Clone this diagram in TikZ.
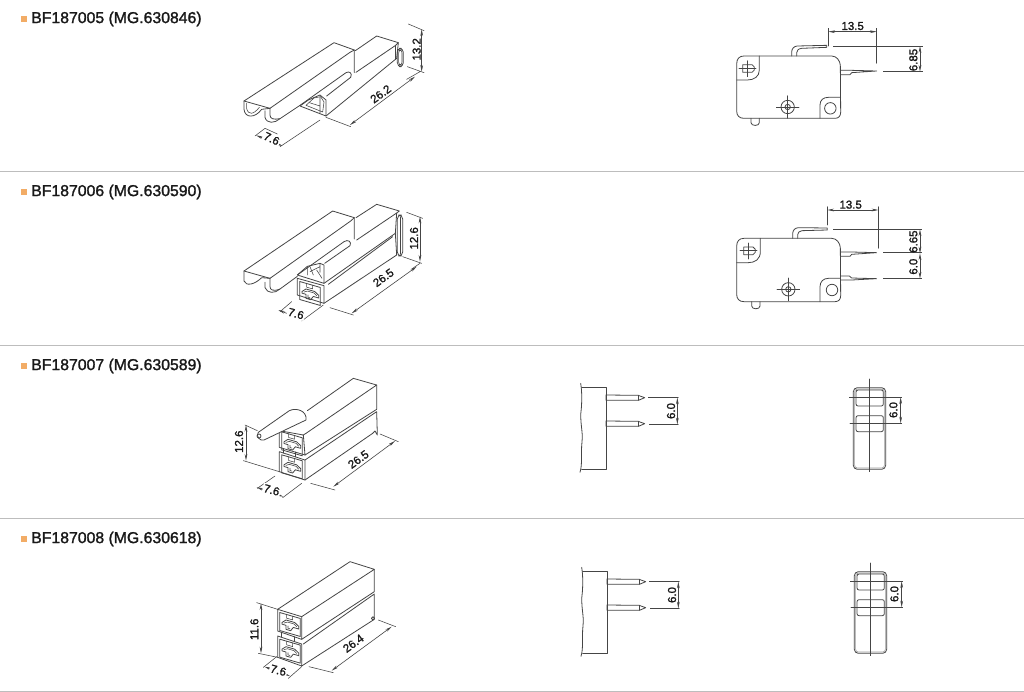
\documentclass[tikz,border=0pt]{standalone}
\usepackage{fontspec}
\setmainfont{Liberation Sans}
\usetikzlibrary{arrows.meta}
\definecolor{ink}{HTML}{454545}
\definecolor{orangeb}{HTML}{F2AC66}
\definecolor{sep}{HTML}{BDBDBD}
\tikzset{
  ln/.style={draw=ink,line width=.6pt,line join=round,line cap=round},
  thn/.style={draw=ink,line width=.42pt,line join=round,line cap=round},
  dm/.style={draw=ink,line width=.45pt,{Stealth[length=5pt,width=2pt]}-{Stealth[length=5pt,width=2pt]}},
  ttl/.style={anchor=west,inner sep=0pt,text=black!90,font=\fontsize{11.85}{13}\selectfont\addfontfeature{FakeBold=1.5}},
  dt/.style={inner sep=0pt,text=black!90,font=\fontsize{8.6}{9}\selectfont\addfontfeature{FakeBold=1.5}},
  dtw/.style={dt,fill=white,inner sep=.8pt},
  zoomed/.style={x=.25pt,y=-.25pt}
}
\newcommand{\facein}{%
  \draw[ln] (5,6)--(67,6)--(67,60)--(5,60)--cycle;
  \draw[ln] (12,34)--(24,23)--(50,23)--(62,31)--(62,39)--(46,39)--(38,51)--(24,51)--(24,39)--(12,39)--cycle;
  \draw[thn] (26,6)--(26,17)--(44,17)--(44,6);
  \draw[thn] (18,34)--(28,28)--(48,28)--(56,34) (30,39)--(30,46)--(36,46);
}
\newcommand{\switchbody}[8]{%
  % #1 top y, #2 bottom y, #3 left pocket y1, #4 pocket y2, #5 cross x, #6 cross y, #7 screw x, #8 screw y
  \draw[ln] (50,#1+24) .. controls (50,#1+8) and (58,#1) .. (72,#1) -- (335,#1) .. controls (350,#1) and (360,#1+14) .. (361,#1+28) -- (362,#2-18) .. controls (362,#2-6) and (355,#2) .. (345,#2) -- (72,#2) .. controls (58,#2) and (50,#2-8) .. (50,#2-22) -- cycle;
  \draw[ln] (#5+36,#1) -- (#5+36,#3) .. controls (#5+36,#4-10) and (#5+20,#4) .. (#5,#4) -- (50,#4);
  \draw[ln] (#5-14,#6-11) -- (#5+14,#6-11) -- (#5+21,#6-4) -- (#5+21,#6+5) -- (#5+14,#6+12) -- (#5-14,#6+12) -- (#5-14,#6-11);
  \draw[thn] (#5-25,#6) -- (#5+26,#6) (#5,#6-23) -- (#5,#6+25);
  \draw[ln] (#7,#8) circle[radius=5pt];
  \draw[ln] (#7,#8) circle[radius=2pt];
  \draw[thn] (#7-34,#8) -- (#7+34,#8) (#7,#8-34) -- (#7,#8+34);
  \draw[ln] (#7-110,#2) -- (#7-110,#2+13) .. controls (#7-110,#2+24) and (#7-85,#2+24) .. (#7-85,#2+13) -- (#7-85,#2);
}
\newcommand{\pinview}{%
  \draw[ln] (62,25) .. controls (66,50) and (66,70) .. (64,100) .. controls (58,140) and (70,170) .. (66,200) .. controls (62,240) and (68,265) .. (60,292);
  \draw[ln] (65,38) -- (138,38) -- (138,282) -- (65,282);
  \draw[ln] (138,60) -- (235,61) -- (240,63) -- (254,68) -- (240,74) -- (235,76) -- (138,76) -- cycle;
  \draw[ln] (138,138) -- (235,139) -- (240,141) -- (254,146) -- (240,152) -- (235,154) -- (138,154) -- cycle;
  \draw[thn] (235,61) -- (235,76) (235,139) -- (235,154);
  \draw[thn] (265,68) -- (355,68) (268,148) -- (355,148);
  \draw[dm] (352,68) -- (352,148);
}
\newcommand{\frontview}{%
  \draw[ln,rounded corners=3pt] (70,38) rectangle (167,283);
  \draw[thn,black!40,rounded corners=2pt] (74,42) rectangle (163,279);
  \draw[ln,rounded corners=1.5pt] (78,45) rectangle (160,93);
  \draw[ln,rounded corners=1.5pt] (78,122) rectangle (160,170);
  \draw[thn] (118,12) -- (118,290);
  \draw[thn] (58,67) -- (215,67) (60,145) -- (215,145);
  \draw[dm] (212,67) -- (212,145);
}
\begin{document}
\begin{tikzpicture}[x=.75pt,y=-.75pt]
\useasboundingbox (0,0) rectangle (1024,692);
\fill[white] (0,0) rectangle (1024,692);
% separators
\draw[sep,line width=.5pt] (0,171.5) -- (1024,171.5) (0,345) -- (1024,345) (0,518) -- (1024,518) (0,691) -- (1024,691);
% titles
\foreach \yy/\nn/\lbl in {19/a/BF187005 (MG.630846),192/b/BF187006 (MG.630590),366/c/BF187007 (MG.630589),539/d/BF187008 (MG.630618)}{
  \fill[orangeb] (20.5,\yy-3.2) rectangle (27,\yy+3.2);
  \node[ttl] (title\nn) at (31,\yy) {\lbl};
}
% ---------- row 1 connector
\begin{scope}[shift={(220,20)},zoomed]
  \draw[ln] (72,243) -- (342,68) -- (403,90) -- (403,158);
  \draw[ln] (72,243) -- (150,265) -- (390,97) -- (403,90);
  \draw[ln] (72,243) -- (72,268) .. controls (75,295) and (105,295) .. (125,268) -- (150,265);
  \draw[thn] (80,250) -- (80,266) .. controls (85,285) and (100,285) .. (118,262);
  \draw[ln] (135,272) -- (135,292) .. controls (140,312) and (165,310) .. (180,296) -- (240,256);
  \draw[ln] (150,265) -- (150,285) .. controls (150,296) and (160,300) .. (180,296);
  \draw[ln] (240,256) -- (378,158) .. controls (388,152) and (398,160) .. (392,172) -- (320,228);
  \draw[ln] (406,92) -- (470,48) -- (535,68) -- (527,76) -- (408,157);
  \draw[ln] (535,68) -- (530,115) -- (318,288);
  \draw[ln] (527,76) -- (527,118);
  \draw[ln] (240,258) -- (318,288) -- (318,240) -- (300,225) -- (265,240) -- (240,258);
  \draw[thn] (258,256) -- (282,234) -- (302,230) -- (312,246) -- (308,276) -- (258,256);
  \draw[thn] (268,248) -- (300,258) (300,230) -- (300,280);
  \draw[ln,rounded corners=3pt] (532,85) rectangle (550,140);
  \draw[thn,rounded corners=2pt] (536,90) rectangle (546,135);
  \draw[thn] (565,12) -- (612,32) (562,140) -- (612,158) (318,292) -- (392,320) (600,155) -- (560,178);
  \draw[thn] (300,300) -- (180,380) (135,325) -- (105,348) (135,325) -- (172,342);
  \draw[dm] (605,28) -- (605,155);
  \draw[dm] (585,170) -- (390,315);
  \draw[dm] (108,346) -- (188,378);
  \node[dt,rotate=90] (d1a) at (590,88) {13.2};
  \node[dt,rotate=36] (d1b) at (482,222) {26.2};
  \node[dtw,rotate=-25] (d1c) at (155,356) {7.6};
\end{scope}
% ---------- row 1 switch
\begin{scope}[shift={(720,10)},zoomed]
  \switchbody{138}{325}{180}{210}{82}{175}{203}{291}
  \draw[ln] (300,325) -- (300,285) .. controls (300,270) and (310,262) .. (325,262) -- (362,262);
  \draw[ln] (331,295) circle[radius=4.3pt];
  \draw[ln] (215,138) -- (215,125) .. controls (216,115) and (222,109) .. (232,108) -- (320,106) -- (320,112) -- (245,115) .. controls (235,116) and (230,122) .. (230,128) -- (230,138);
  \draw[ln] (362,181) -- (395,181) -- (470,183) -- (395,188) -- (390,194) -- (362,194);
  \draw[thn] (325,55) -- (325,108) (470,55) -- (470,160) (340,108) -- (608,108) (490,183) -- (608,183);
  \draw[dm] (325,65) -- (470,65);
  \draw[dm] (600,108) -- (600,185);
  \node[dt] (s1a) at (398,48) {13.5};
  \node[dt,rotate=90] (s1b) at (580,150) {6.85};
\end{scope}
% ---------- row 2 connector
\begin{scope}[shift={(220,195)},zoomed]
  \draw[ln] (72,228) -- (338,48) -- (403,68) -- (403,132);
  \draw[ln] (72,228) -- (150,250) -- (392,78) -- (403,68);
  \draw[ln] (72,228) -- (72,258) .. controls (78,275) and (105,268) .. (125,248) -- (150,250);
  \draw[ln] (135,262) -- (135,278) .. controls (142,296) and (165,296) .. (180,282) -- (232,244);
  \draw[ln] (150,250) -- (150,275) .. controls (150,285) and (160,290) .. (180,282);
  \draw[ln] (232,240) -- (372,140) .. controls (384,132) and (396,140) .. (390,152) -- (314,205);
  \draw[ln] (408,68) -- (470,28) -- (538,48) -- (530,54) -- (410,135);
  \draw[ln] (530,54) -- (526,115) -- (312,265);
  \draw[ln] (526,115) -- (530,180) -- (312,325);
  \draw[ln] (325,268) -- (518,125);
  \draw[ln,rounded corners=3pt] (532,60) rectangle (548,183);
  \draw[thn] (540,65) -- (540,178);
  \draw[ln] (232,240) -- (262,214) -- (300,205) -- (312,210) -- (312,265) -- (232,240);
  \draw[ln] (232,250) -- (312,272) -- (312,325) -- (232,300) -- cycle;
  \draw[thn] (262,214) -- (262,240) (300,205) -- (300,232) (270,230) -- (300,215) (270,215) -- (280,240) (290,225) -- (306,250);
  \begin{scope}[shift={(234,252)},yslant=-.29]\facein\end{scope}
  \draw[thn] (560,52) -- (608,70) (548,185) -- (605,205) (330,338) -- (400,360) (600,205) -- (575,222);
  \draw[thn] (215,320) -- (180,350) (310,330) -- (245,378);
  \draw[dm] (600,65) -- (600,200);
  \draw[dm] (590,215) -- (395,355);
  \draw[dm] (175,345) -- (250,375);
  \node[dt,rotate=90] (d2a) at (582,130) {12.6};
  \node[dt,rotate=36] (d2b) at (490,248) {26.5};
  \node[dtw,rotate=-15] (d2c) at (228,356) {7.6};
\end{scope}
% ---------- row 2 switch
\begin{scope}[shift={(720,190)},zoomed]
  \switchbody{145}{335}{185}{218}{85}{182}{205}{298}
  \draw[ln] (300,335) -- (300,290) .. controls (300,275) and (310,265) .. (325,265) -- (362,265);
  \draw[ln] (336,300) circle[radius=4.3pt];
  \draw[ln] (218,145) -- (218,130) .. controls (219,120) and (225,114) .. (235,113) -- (322,114) -- (322,120) -- (246,122) .. controls (238,123) and (233,128) .. (233,134) -- (233,145);
  \draw[ln] (362,186) -- (395,186) -- (470,188) -- (395,193) -- (390,199) -- (362,199);
  \draw[ln] (362,258) -- (388,258) -- (395,264) -- (470,266) -- (395,270) -- (362,270);
  \draw[thn] (322,50) -- (322,105) (475,50) -- (475,175) (340,118) -- (605,118) (490,188) -- (605,188) (490,266) -- (605,266);
  \draw[dm] (322,60) -- (475,60);
  \draw[dm] (600,118) -- (600,190);
  \draw[dm] (600,190) -- (600,266);
  \node[dt] (s2a) at (392,44) {13.5};
  \node[dt,rotate=90] (s2b) at (580,155) {6.65};
  \node[dt,rotate=90] (s2c) at (580,230) {6.0};
\end{scope}
% ---------- row 3 connector
\begin{scope}[shift={(220,370)},zoomed]
  \draw[ln] (262,122) -- (400,25) -- (470,45) -- (258,190);
  \draw[ln] (470,45) -- (470,118) -- (255,255);
  \draw[ln] (255,270) -- (470,125) -- (472,195) -- (465,183) -- (458,190) -- (255,330);
  \draw[ln] (178,182) -- (250,195) -- (255,255) -- (178,232) -- cycle;
  \draw[ln] (250,195) -- (258,190);
  \draw[ln] (178,245) -- (255,270) -- (255,330) -- (178,305) -- cycle;
  \draw[ln] (190,236) -- (190,249) (225,246) -- (225,260);
  \begin{scope}[shift={(180,178)},yslant=-.29]\facein\end{scope}
  \begin{scope}[shift={(180,247)},yslant=-.29]\facein\end{scope}
  \draw[ln,fill=white] (115,187) -- (208,122) .. controls (228,112) and (262,122) .. (258,150) -- (132,210) .. controls (120,214) and (106,198) .. (115,187) -- cycle;
  \draw[ln] (117,198) circle[radius=1.5pt];
  \draw[thn] (75,165) -- (112,182) (70,272) -- (178,305) (480,192) -- (535,215) (272,340) -- (345,360);
  \draw[thn] (165,318) -- (112,355) (245,340) -- (188,383);
  \draw[dm] (78,165) -- (78,272);
  \draw[dm] (525,213) -- (340,350);
  \draw[dm] (110,352) -- (190,380);
  \node[dt,rotate=90] (d3a) at (57,215) {12.6};
  \node[dt,rotate=36] (d3b) at (415,268) {26.5};
  \node[dtw,rotate=-15] (d3c) at (155,360) {7.6};
\end{scope}
% ---------- row 3 pins and end view
\begin{scope}[shift={(560,375)},zoomed]
  \pinview
  \node[dt,rotate=90] (p1) at (333,108) {6.0};
\end{scope}
\begin{scope}[shift={(830,375)},zoomed]
  \frontview
  \draw[ln] (95,145) -- (145,145);
  \node[dt,rotate=90] (e1) at (190,105) {6.0};
\end{scope}
% ---------- row 4 connector
\begin{scope}[shift={(235,550)},zoomed]
  \draw[ln] (128,178) -- (345,35) -- (418,58) -- (200,200);
  \draw[ln] (418,58) -- (418,125) -- (200,268);
  \draw[ln] (205,282) -- (418,132) -- (418,208) -- (200,348);
  \draw[ln] (128,178) -- (200,200) -- (200,268) -- (128,243) -- cycle;
  \draw[ln] (128,258) -- (200,282) -- (200,348) -- (128,322) -- cycle;
  \draw[ln] (140,247) -- (140,261) (178,260) -- (178,274);
  \draw[ln] (414,205) circle[radius=1.2pt];
  \begin{scope}[shift={(129,180)},yslant=-.29]\facein\end{scope}
  \begin{scope}[shift={(129,260)},yslant=-.29]\facein\end{scope}
  \draw[thn] (65,158) -- (128,178) (70,310) -- (128,322) (430,210) -- (482,230) (222,350) -- (295,368);
  \draw[thn] (125,320) -- (85,352) (200,350) -- (160,385);
  \draw[dm] (78,160) -- (78,310);
  \draw[dm] (470,230) -- (290,362);
  \draw[dm] (88,350) -- (165,378);
  \node[dt,rotate=90] (d4a) at (58,238) {11.6};
  \node[dt,rotate=36] (d4b) at (355,280) {26.4};
  \node[dtw,rotate=-15] (d4c) at (130,361) {7.6};
\end{scope}
% ---------- row 4 pins and end view
\begin{scope}[shift={(561,559)},zoomed]
  \pinview
  \node[dt,rotate=90] (p2) at (333,108) {6.0};
\end{scope}
\begin{scope}[shift={(831,559)},zoomed]
  \frontview
  \draw[ln] (95,67) -- (145,67);
  \node[dt,rotate=90] (e2) at (190,105) {6.0};
\end{scope}
\end{tikzpicture}
\end{document}
